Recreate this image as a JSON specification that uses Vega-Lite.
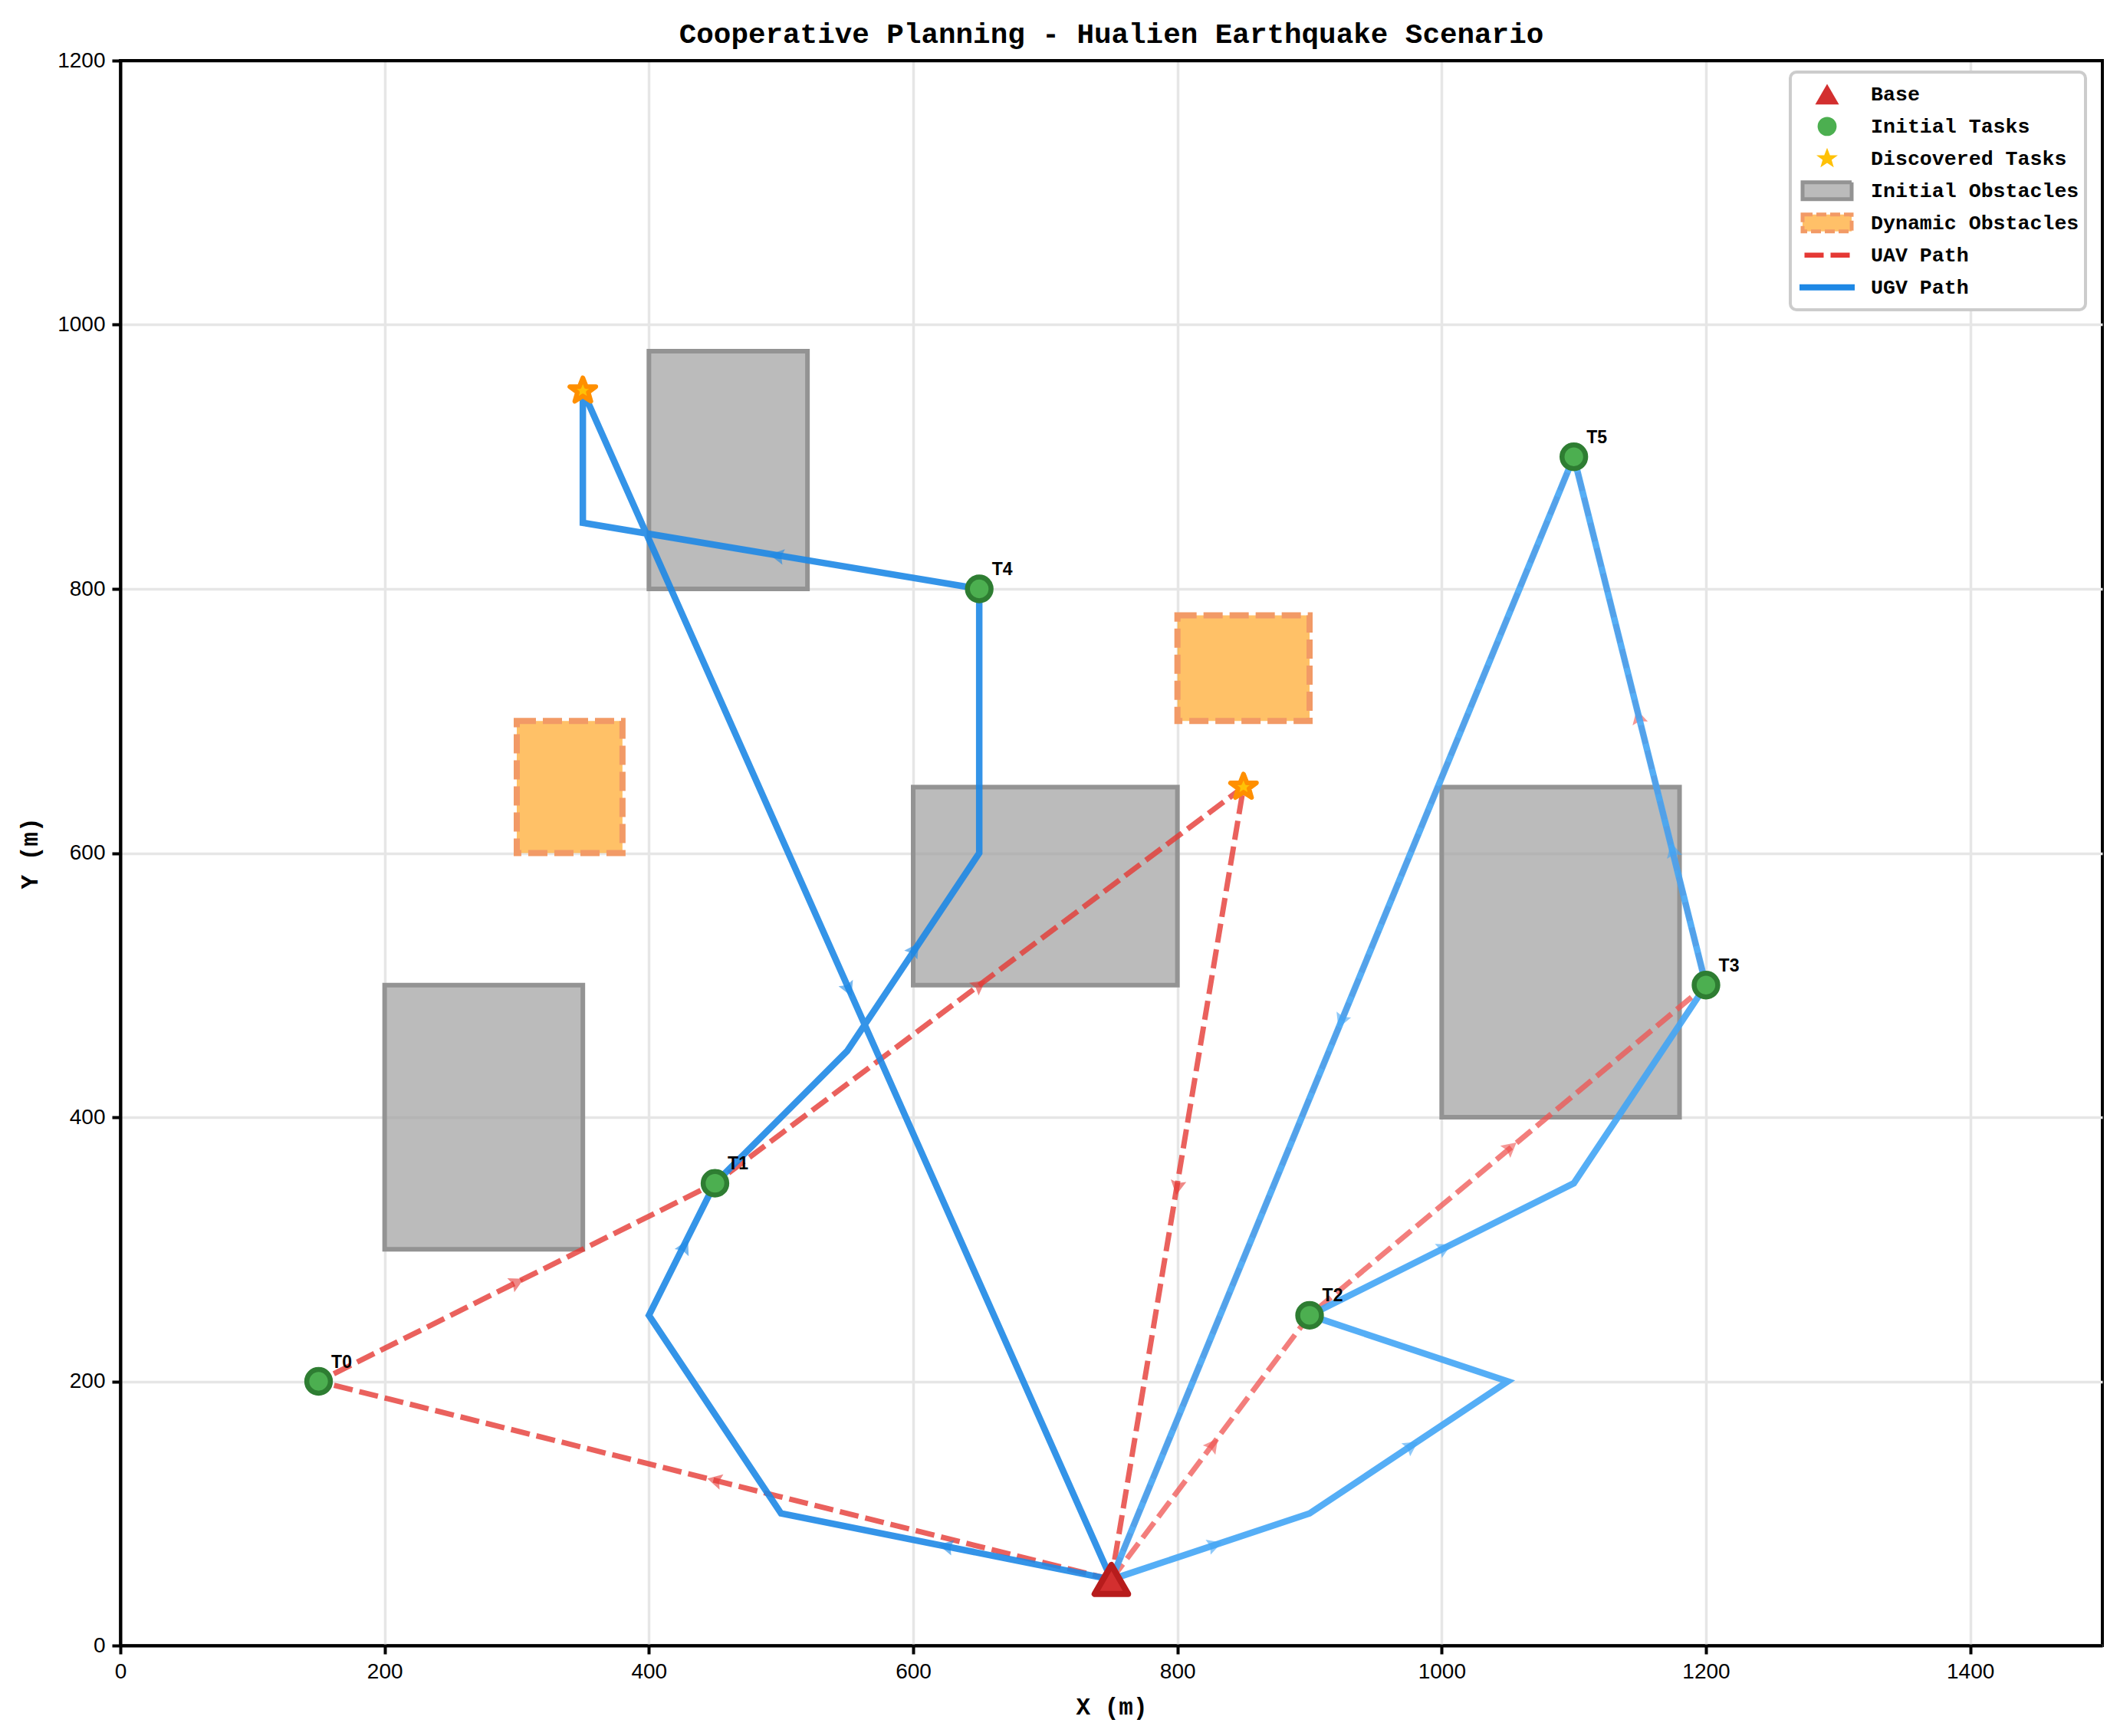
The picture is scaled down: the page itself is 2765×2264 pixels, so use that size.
{
"$schema":"https://vega.github.io/schema/vega-lite/v6.json",
"width":2585,"height":2067,
"autosize":{"type":"none"},
"padding":{"left":157,"top":79,"right":23,"bottom":118},
"background":"white",
"title":{"text":"Cooperative Planning - Hualien Earthquake Scenario","font":"Liberation Mono","fontSize":37.6,"fontWeight":"bold","color":"#000000","anchor":"middle","offset":1},
"config":{"view":{"stroke":"#000000","strokeWidth":4},"legend":{"strokeWidth":4},
"axis":{"labelFont":"Liberation Sans","labelFontSize":28,"labelColor":"#000000","titleFont":"Liberation Mono","titleFontSize":31,"titleFontWeight":"bold","titleColor":"#000000","domainColor":"#000000","domainWidth":4,"tickColor":"#000000","tickWidth":4,"tickSize":11,"labelPadding":9,"gridWidth":3.5,"labelFontWeight":"normal","labelFlush":false,"labelOverlap":false}},
"datasets":{
"legendKeys":[{"group":"Base"},{"group":"Initial Tasks"},{"group":"Discovered Tasks"},{"group":"Initial Obstacles"},{"group":"Dynamic Obstacles"},{"group":"UAV Path"},{"group":"UGV Path"}],
"obstacles":[{"x":200,"x2":350,"y":300,"y2":500},{"x":400,"x2":520,"y":800,"y2":980},{"x":600,"x2":800,"y":500,"y2":650},{"x":1000,"x2":1180,"y":400,"y2":650}],
"dynamic":[{"x":300,"x2":380,"y":600,"y2":700},{"x":800,"x2":900,"y":700,"y2":780}],
"uav1":[{"seq":0,"x":750,"y":50},{"seq":1,"x":150,"y":200},{"seq":2,"x":450,"y":350},{"seq":3,"x":850,"y":650},{"seq":4,"x":750,"y":50}],
"uav2":[{"seq":0,"x":750,"y":50},{"seq":1,"x":900,"y":250},{"seq":2,"x":1200,"y":500},{"seq":3,"x":1100,"y":900},{"seq":4,"x":750,"y":50}],
"ugv1":[{"seq":0,"x":750,"y":50},{"seq":1,"x":500,"y":100},{"seq":2,"x":400,"y":250},{"seq":3,"x":450,"y":350},{"seq":4,"x":550,"y":450},{"seq":5,"x":650,"y":600},{"seq":6,"x":650,"y":800},{"seq":7,"x":350,"y":850},{"seq":8,"x":350,"y":950},{"seq":9,"x":750,"y":50}],
"ugv2":[{"seq":0,"x":750,"y":50},{"seq":1,"x":900,"y":100},{"seq":2,"x":1050,"y":200},{"seq":3,"x":900,"y":250},{"seq":4,"x":1100,"y":350},{"seq":5,"x":1200,"y":500},{"seq":6,"x":1150,"y":700},{"seq":7,"x":1100,"y":900},{"seq":8,"x":750,"y":50}],
"arrowsUav1":[{"x":450,"y":125,"heading":284},{"x":300,"y":275,"heading":63.4},{"x":650,"y":500,"heading":53.1},{"x":800,"y":347,"heading":189.5}],
"arrowsUav2":[{"x":827,"y":152,"heading":36.9},{"x":1052,"y":377,"heading":50.2},{"x":1149,"y":703,"heading":346}],
"arrowsUgv1":[{"x":625,"y":75,"heading":281.3},{"x":427,"y":302,"heading":26.6},{"x":601,"y":527,"heading":33.7},{"x":497,"y":825,"heading":279.5},{"x":551,"y":497,"heading":156}],
"arrowsUgv2":[{"x":828,"y":76,"heading":71.6},{"x":977,"y":151,"heading":56.3},{"x":1002,"y":301,"heading":63.4},{"x":1175,"y":602,"heading":346},{"x":924,"y":473,"heading":202.4}],
"base":[{"x":750,"y":50}],
"tasks":[{"name":"T0","x":150,"y":200},{"name":"T1","x":450,"y":350},{"name":"T2","x":900,"y":250},{"name":"T3","x":1200,"y":500},{"name":"T4","x":650,"y":800},{"name":"T5","x":1100,"y":900}],
"discovered":[{"x":350,"y":950},{"x":850,"y":650}]
},
"encoding":{
"x":{"field":"x","type":"quantitative","scale":{"domain":[0,1500],"nice":false},"axis":{"title":"X (m)","values":[0,200,400,600,800,1000,1200,1400],"format":"d","titlePadding":17,"gridColor":"#e6e6e6"}},
"y":{"field":"y","type":"quantitative","scale":{"domain":[0,1200],"nice":false},"axis":{"title":"Y (m)","values":[0,200,400,600,800,1000,1200],"format":"d","titlePadding":19,"gridColor":{"condition":{"test":"datum.value===1200","value":"#000000"},"value":"#e6e6e6"}}}
},
"layer":[
{"data":{"name":"legendKeys"},"mark":{"type":"point","filled":true,"opacity":1},
"encoding":{
"color":{"field":"group","type":"nominal","scale":{"domain":["Base","Initial Tasks","Discovered Tasks","Initial Obstacles","Dynamic Obstacles","UAV Path","UGV Path"],"range":["#d32f2f","#4caf50","#ffc107","#bbbbbb","#ffc068","transparent","transparent"]},
"legend":{"title":null,"orient":"none","legendX":2178,"legendY":15,"fillColor":"#ffffff","strokeColor":"#cccccc","cornerRadius":8,"padding":8,"clipHeight":41.7,"rowPadding":0,"labelOffset":17,"labelFont":"Liberation Mono","labelFontSize":26.6,"labelColor":"#000000","labelFontWeight":"bold","labelLimit":400,"symbolLimit":10,"symbolOpacity":1}},
"stroke":{"field":"group","type":"nominal","scale":{"domain":["Base","Initial Tasks","Discovered Tasks","Initial Obstacles","Dynamic Obstacles","UAV Path","UGV Path"],"range":["transparent","transparent","transparent","#939393","#f29a66","#e53935","#1e88e5"]},"legend":{"title":null,"orient":"none","legendX":2178,"legendY":15}},
"shape":{"field":"group","type":"nominal","scale":{"domain":["Base","Initial Tasks","Discovered Tasks","Initial Obstacles","Dynamic Obstacles","UAV Path","UGV Path"],"range":["triangle-up","circle","M0,-1L0.27,-0.31L1,-0.31L0.42,0.12L0.62,0.81L0,0.4L-0.62,0.81L-0.42,0.12L-1,-0.31L-0.27,-0.31Z","M-1,-0.344H1V0.344H-1Z","M-1,-0.344H1V0.344H-1Z","stroke","stroke"]},"legend":{"title":null,"orient":"none","legendX":2178,"legendY":15}},
"size":{"field":"group","type":"nominal","scale":{"type":"ordinal","domain":["Base","Initial Tasks","Discovered Tasks","Initial Obstacles","Dynamic Obstacles","UAV Path","UGV Path"],"range":[961,616,784,4096,4096,3481,5184]},"legend":{"title":null,"orient":"none","legendX":2178,"legendY":15}},
"strokeWidth":{"field":"group","type":"nominal","scale":{"type":"ordinal","domain":["Base","Initial Tasks","Discovered Tasks","Initial Obstacles","Dynamic Obstacles","UAV Path","UGV Path"],"range":[0,0,0,5,5,6.5,8]},"legend":{"title":null,"orient":"none","legendX":2178,"legendY":15}},
"strokeDash":{"field":"group","type":"nominal","scale":{"domain":["Base","Initial Tasks","Discovered Tasks","Initial Obstacles","Dynamic Obstacles","UAV Path","UGV Path"],"range":[[1,0],[1,0],[1,0],[1,0],[13,5],[25,9],[1,0]]},"legend":{"title":null,"orient":"none","legendX":2178,"legendY":15}}
}},
{"data":{"name":"obstacles"},"mark":{"type":"rect","color":"#9e9e9e","fillOpacity":0.7,"stroke":"#939393","strokeWidth":6},"encoding":{"x2":{"field":"x2"},"y2":{"field":"y2"}}},
{"data":{"name":"dynamic"},"mark":{"type":"rect","color":"#ffa726","fill":"#ffa726","fillOpacity":0.7,"stroke":"#f29a66","strokeWidth":8,"strokeDash":[25,9]},"encoding":{"x2":{"field":"x2"},"y2":{"field":"y2"}}},
{"data":{"name":"uav1"},"mark":{"type":"line","color":"#e53935","strokeWidth":7,"strokeDash":[25,9],"opacity":0.8,"strokeCap":"butt"},"encoding":{"order":{"field":"seq"}}},
{"data":{"name":"arrowsUav1"},"mark":{"type":"point","shape":"M0,-1L1,0.85L0,0.55L-1,0.85Z","filled":true,"size":420,"opacity":0.6,"color":"#e53935"},"encoding":{"angle":{"field":"heading","type":"quantitative","scale":null}}},
{"data":{"name":"uav2"},"mark":{"type":"line","color":"#ef5350","strokeWidth":7,"strokeDash":[25,9],"opacity":0.75,"strokeCap":"butt"},"encoding":{"order":{"field":"seq"}}},
{"data":{"name":"arrowsUav2"},"mark":{"type":"point","shape":"M0,-1L1,0.85L0,0.55L-1,0.85Z","filled":true,"size":420,"opacity":0.6,"color":"#ef5350"},"encoding":{"angle":{"field":"heading","type":"quantitative","scale":null}}},
{"data":{"name":"ugv1"},"mark":{"type":"line","color":"#1e88e5","strokeWidth":8.5,"opacity":0.9,"strokeCap":"butt","strokeJoin":"miter"},"encoding":{"order":{"field":"seq"}}},
{"data":{"name":"arrowsUgv1"},"mark":{"type":"point","shape":"M0,-1L1,0.85L0,0.55L-1,0.85Z","filled":true,"size":420,"opacity":0.6,"color":"#1e88e5"},"encoding":{"angle":{"field":"heading","type":"quantitative","scale":null}}},
{"data":{"name":"ugv2"},"mark":{"type":"line","color":"#42a5f5","strokeWidth":8.5,"opacity":0.9,"strokeCap":"butt","strokeJoin":"miter"},"encoding":{"order":{"field":"seq"}}},
{"data":{"name":"arrowsUgv2"},"mark":{"type":"point","shape":"M0,-1L1,0.85L0,0.55L-1,0.85Z","filled":true,"size":420,"opacity":0.6,"color":"#42a5f5"},"encoding":{"angle":{"field":"heading","type":"quantitative","scale":null}}},
{"data":{"name":"tasks"},"mark":{"type":"point","shape":"circle","filled":true,"size":950,"opacity":1,"fill":"#4caf50","stroke":"#2e7d32","strokeWidth":6.5}},
{"data":{"name":"discovered"},"mark":{"type":"point","shape":"M0,-1L0.27,-0.31L1,-0.31L0.42,0.12L0.62,0.81L0,0.4L-0.62,0.81L-0.42,0.12L-1,-0.31L-0.27,-0.31Z","filled":true,"size":1150,"opacity":1,"fill":"#ffc107","stroke":"#ff8f00","strokeWidth":6,"strokeJoin":"round"}},
{"data":{"name":"base"},"mark":{"type":"point","shape":"triangle-up","filled":true,"size":1900,"opacity":1,"fill":"#d32f2f","stroke":"#b71c1c","strokeWidth":8,"strokeJoin":"round"}},
{"data":{"name":"tasks"},"mark":{"type":"text","font":"Liberation Sans","fontSize":23,"fontWeight":"bold","dx":30,"dy":-25,"color":"#000000"},"encoding":{"text":{"field":"name"}}}
]
}
